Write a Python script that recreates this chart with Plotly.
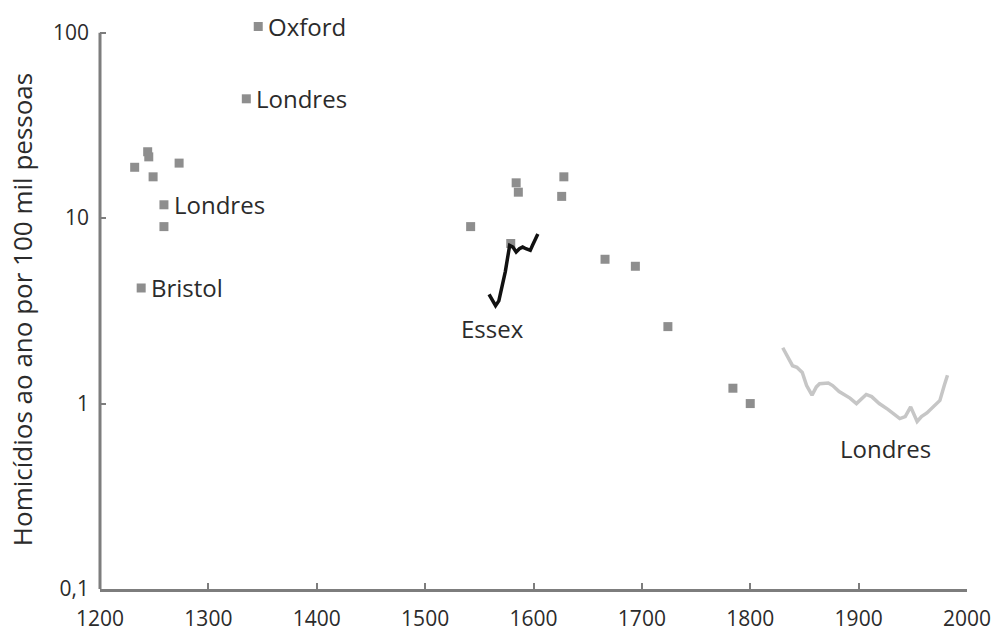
import math
import plotly.graph_objects as go

# Homicide rates in England (per 100,000 people per year)
# Individual estimates from local studies
point_years = [1232, 1244, 1245, 1249, 1273, 1259, 1259, 1238,
               1335, 1346,
               1542, 1579, 1584, 1586, 1628, 1626, 1666, 1694, 1724,
               1784, 1800]
point_rates = [18.8, 22.8, 21.4, 16.7, 19.8, 11.8, 9.0, 4.2,
               44.0, 108.0,
               9.0, 7.3, 15.5, 13.8, 16.7, 13.1, 6.0, 5.5, 2.6,
               1.21, 1.0]

# Essex series
essex_years = [1559, 1565, 1568, 1571, 1574, 1577, 1578, 1581, 1584, 1587,
               1590, 1593, 1597, 1599, 1602, 1604]
essex_rates = [3.88, 3.37, 3.58, 4.22, 5.15, 6.57, 7.12, 6.98, 6.57, 6.84,
               6.98, 6.84, 6.70, 7.12, 7.73, 8.20]

# London series (19th-20th century)
london_years = [1830, 1835, 1839, 1843, 1848, 1852, 1857, 1861, 1864, 1872,
                1876, 1882, 1892, 1898, 1903, 1907, 1912, 1919, 1927, 1933,
                1938, 1943, 1948, 1954, 1958, 1963, 1970, 1975, 1979, 1982]
london_rates = [2.00, 1.77, 1.60, 1.57, 1.47, 1.25, 1.11, 1.23, 1.28, 1.29,
                1.25, 1.16, 1.07, 1.00, 1.07, 1.12, 1.09, 1.00, 0.93, 0.87,
                0.83, 0.85, 0.96, 0.80, 0.85, 0.89, 0.98, 1.04, 1.25, 1.42]

# Labels placed next to particular points
point_labels = [("Oxford", 1346, 108.0), ("Londres", 1335, 44.0),
                ("Londres", 1259, 11.8), ("Bristol", 1238, 4.2)]
series_labels = [("Essex", 1562, 2.54), ("Londres", 1925, 0.575)]

x_ticks = [1200, 1300, 1400, 1500, 1600, 1700, 1800, 1900, 2000]
y_ticks = [0.1, 1, 10, 100]
y_tick_text = ["0,1", "1", "10", "100"]
y_top = 120  # headroom above the last tick so the Oxford point stays visible

FONT = "'Open Sans', Lato, sans-serif"
TEXT = "#2b2b2b"
AXIS = "#7d7d7d"

fig = go.Figure()

fig.add_trace(go.Scatter(
    x=point_years, y=point_rates, mode="markers",
    marker=dict(symbol="square", size=9, color="#8e8e8e", line=dict(width=0)),
    cliponaxis=False, hoverinfo="x+y",
))

fig.add_trace(go.Scatter(
    x=london_years, y=london_rates, mode="lines",
    line=dict(color="#c6c6c6", width=3.5),
    cliponaxis=False,
))

fig.add_trace(go.Scatter(
    x=essex_years, y=essex_rates, mode="lines",
    line=dict(color="#111111", width=3.5),
    cliponaxis=False,
))

# annotation coordinates on a log axis are given in log10 units
for text, x, y in point_labels:
    fig.add_annotation(x=x, y=math.log10(y), text=text, showarrow=False,
                       xanchor="left", yanchor="middle", xshift=8,
                       font=dict(family=FONT, size=24, color=TEXT))

for text, x, y in series_labels:
    fig.add_annotation(x=x, y=math.log10(y), text=text, showarrow=False,
                       xanchor="center", yanchor="middle",
                       font=dict(family=FONT, size=24, color=TEXT))

fig.add_annotation(
    xref="paper", yref="paper", x=-0.09, y=0.49,
    text="Homicídios ao ano por 100 mil pessoas", textangle=-90,
    showarrow=False, xanchor="center", yanchor="middle",
    font=dict(family=FONT, size=26, color=TEXT),
)

# vertical axis line stops at the top tick (100)
fig.add_shape(type="line", xref="paper", yref="y",
              x0=0, x1=0, y0=y_ticks[0], y1=y_ticks[-1],
              line=dict(color=AXIS, width=3), layer="above")

fig.update_layout(
    width=1002, height=639,
    margin=dict(l=100, r=35, t=18, b=50),
    paper_bgcolor="white", plot_bgcolor="white",
    showlegend=False,
    xaxis=dict(
        range=[1200, 2000], tickvals=x_ticks, automargin=False,
        showline=True, linecolor=AXIS, linewidth=3,
        ticks="inside", ticklen=6, tickwidth=2, tickcolor=AXIS,
        showgrid=False, zeroline=False, ticklabelstandoff=9,
        tickfont=dict(family=FONT, size=21, color=TEXT),
    ),
    yaxis=dict(
        type="log", range=[-1, math.log10(y_top)], automargin=False,
        tickvals=y_ticks, ticktext=y_tick_text,
        showline=False,
        ticks="inside", ticklen=6, tickwidth=2, tickcolor=AXIS,
        showgrid=False, zeroline=False, ticklabelstandoff=10,
        tickfont=dict(family=FONT, size=21, color=TEXT),
    ),
)

fig.write_html("out.html")
